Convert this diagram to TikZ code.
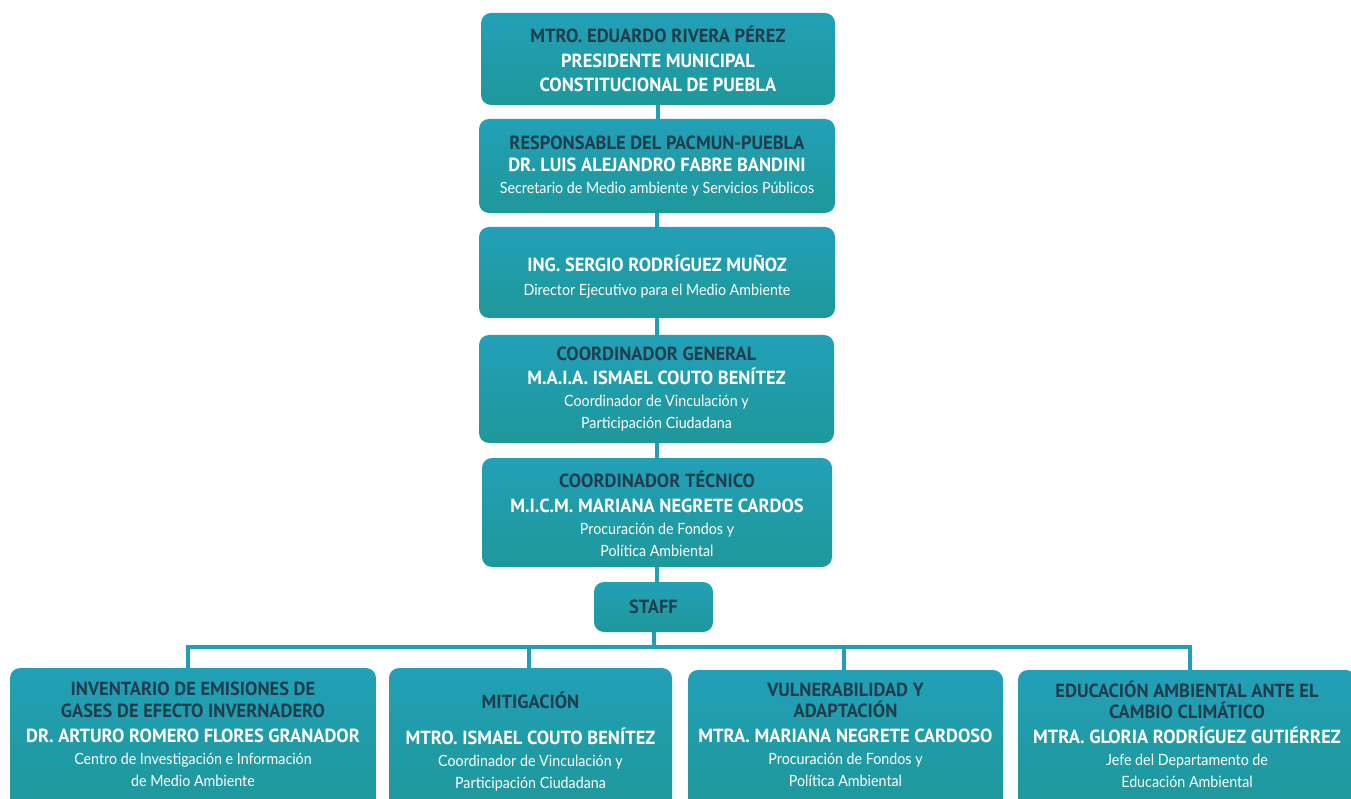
\documentclass[tikz,border=0pt]{standalone}
\usepackage{fontspec}
\setmainfont{PT Sans}
\newfontfamily\hdf{PT Sans}[FakeStretch=0.97]
\newfontfamily\ltf{Lato}[FakeStretch=0.92]
\definecolor{boxtop}{HTML}{22A0B7}
\definecolor{boxbot}{HTML}{1E989A}
\definecolor{dkc}{HTML}{1F3D4C}
\definecolor{lnc}{HTML}{20A0B8}
\newcommand\tdk[1]{\textcolor{dkc}{#1}}
\newcommand\tlt[1]{{\ltf\mdseries\fontsize{15.5}{22}\selectfont #1}}
\newcommand\uph[1]{\rule{0pt}{#1}}
\newcommand\dnd[1]{\rule[-#1]{0pt}{0pt}}
\tikzset{
  orgbox/.style={rounded corners=10pt, top color=boxtop, middle color=boxtop, bottom color=boxbot,
    draw=none, inner sep=0pt, align=center, text=white,
    font=\hdf\bfseries\fontsize{19}{22}\selectfont},
  conn/.style={draw=lnc, line width=4pt}
}
\begin{document}
\begin{tikzpicture}[x=1pt,y=-1pt]
\useasboundingbox (0,0) rectangle (1351,799);
\clip (0,0) rectangle (1351,799);
\node[orgbox, minimum width=354pt, minimum height=92pt] (b1) at (658,59)
  {\tdk{MTRO. EDUARDO RIVERA PÉREZ}\\[2.5pt] PRESIDENTE MUNICIPAL\\[2.5pt] CONSTITUCIONAL DE PUEBLA};
\node[orgbox, minimum width=356pt, minimum height=94pt] (b2) at (657,166)
  {\tdk{RESPONSABLE DEL PACMUN-PUEBLA}\\ DR. LUIS ALEJANDRO FABRE BANDINI\\ \tlt{Secretario de Medio ambiente y Servicios Públicos}};
\node[orgbox, minimum width=356pt, minimum height=91pt] (b3) at (657,272.5)
  {\uph{24pt}ING. SERGIO RODRÍGUEZ MUÑOZ\\[2pt] \tlt{Director Ejecutivo para el Medio Ambiente}};
\node[orgbox, minimum width=355pt, minimum height=108pt] (b4) at (656.5,389)
  {\tdk{COORDINADOR GENERAL}\\[2pt] M.A.I.A. ISMAEL COUTO BENÍTEZ\\ \tlt{Coordinador de Vinculación y}\\ \tlt{Participación Ciudadana}};
\node[orgbox, minimum width=350pt, minimum height=109pt] (b5) at (657,512.5)
  {\uph{20pt}\tdk{COORDINADOR TÉCNICO}\\[3pt] M.I.C.M. MARIANA NEGRETE CARDOS\\ \tlt{Procuración de Fondos y}\\ \tlt{Política Ambiental}};
\node[orgbox, minimum width=119pt, minimum height=50pt] (st) at (653.5,607)
  {\tdk{STAFF}};
\node[orgbox, minimum width=366pt, minimum height=140pt] (ba) at (193,738)
  {\tdk{INVENTARIO DE EMISIONES DE}\\ \tdk{GASES DE EFECTO INVERNADERO}\\[3pt] DR. ARTURO ROMERO FLORES GRANADOR\\ \tlt{Centro de Investigación e Información}\\ \tlt{de Medio Ambiente}\dnd{7pt}};
\node[orgbox, minimum width=283pt, minimum height=140pt] (bb) at (530.5,738)
  {\uph{24pt}\tdk{MITIGACIÓN}\\[14pt] MTRO. ISMAEL COUTO BENÍTEZ\\ \tlt{Coordinador de Vinculación y}\\ \tlt{Participación Ciudadana}};
\node[orgbox, minimum width=315pt, minimum height=138pt] (bc) at (845.5,739)
  {\tdk{VULNERABILIDAD Y}\\[-1pt] \tdk{ADAPTACIÓN}\\[3pt] MTRA. MARIANA NEGRETE CARDOSO\\ \tlt{Procuración de Fondos y}\\ \tlt{Política Ambiental}\dnd{9pt}};
\node[orgbox, minimum width=338pt, minimum height=138pt] (bd) at (1187,739)
  {\tdk{EDUCACIÓN AMBIENTAL ANTE EL}\\[-1pt] \tdk{CAMBIO CLIMÁTICO}\\[3pt] MTRA. GLORIA RODRÍGUEZ GUTIÉRREZ\\ \tlt{Jefe del Departamento de}\\ \tlt{Educación Ambiental}\dnd{9pt}};
\coordinate (bus) at (653.5,647);
\draw[conn] (b1.south) -- (b1.south |- b2.north);
\draw[conn] (b2.south) -- (b2.south |- b3.north);
\draw[conn] (b3.south) -- (b3.south |- b4.north);
\draw[conn] (b4.south) -- (b4.south |- b5.north);
\draw[conn] (b5.south) -- (b5.south |- st.north);
\draw[conn] (st.south) -- (bus);
\draw[conn] ([xshift=-5pt]ba.north) |- (bus) -| ([xshift=3pt]bd.north);
\draw[conn] ([xshift=-2pt]bb.north) -- ([xshift=-2pt]bb.north |- bus);
\draw[conn] ([xshift=-2pt]bc.north) -- ([xshift=-2pt]bc.north |- bus);
\end{tikzpicture}
\end{document}
